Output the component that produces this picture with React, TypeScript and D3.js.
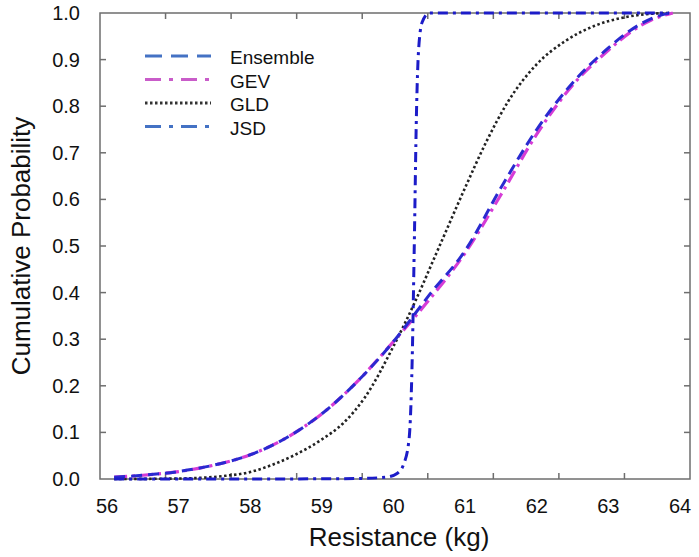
import React from 'react';
import * as d3 from 'd3';

// resistance values (kg) and cumulative probabilities
const ensembleX = [56.1, 56.5, 57, 57.5, 58, 58.5, 59, 59.5, 60, 60.5, 61, 61.5, 62, 62.5, 63, 63.3, 63.6, 63.85];
const ensembleY = [0.004, 0.008, 0.016, 0.03, 0.052, 0.088, 0.14, 0.21, 0.295, 0.395, 0.49, 0.625, 0.75, 0.85, 0.925, 0.962, 0.988, 1.0];

const gevX = [56.1, 56.5, 57, 57.5, 58, 58.5, 59, 59.5, 60, 60.5, 61, 61.5, 62, 62.5, 63, 63.3, 63.6, 63.9];
const gevY = [0.004, 0.008, 0.016, 0.03, 0.052, 0.088, 0.14, 0.21, 0.295, 0.385, 0.485, 0.61, 0.74, 0.845, 0.92, 0.958, 0.985, 1.0];

const gldX = [56.1, 57, 57.6, 58, 58.3, 58.6, 59, 59.3, 59.6, 60, 60.3, 60.6, 61, 61.3, 61.6, 62, 62.4, 62.8, 63.2, 63.5, 63.85];
const gldY = [0.0, 0.001, 0.006, 0.015, 0.03, 0.05, 0.085, 0.12, 0.175, 0.285, 0.38, 0.485, 0.625, 0.725, 0.81, 0.89, 0.94, 0.972, 0.99, 0.997, 1.0];

const jsdX = [56.1, 58, 59.5, 59.9, 60.05, 60.15, 60.22, 60.26, 60.29, 60.32, 60.35, 60.4, 60.5, 61, 62, 63, 63.85];
const jsdY = [0.0, 0.0, 0.001, 0.004, 0.012, 0.035, 0.09, 0.25, 0.5, 0.78, 0.92, 0.98, 1.0, 1.0, 1.0, 1.0, 1.0];

const xLabels = [56, 57, 58, 59, 60, 61, 62, 63, 64];
const yLabels = [0, 0.1, 0.2, 0.3, 0.4, 0.5, 0.6, 0.7, 0.8, 0.9, 1.0];
const legendNames = ['Ensemble', 'GEV', 'GLD', 'JSD'];

const W = 699;
const H = 557;
const frame = { left: 100, right: 690, top: 13, bottom: 479 };

export default function App() {
  const x = d3.scaleLinear().domain([56, 64]).range([107, 680]);
  const y = d3.scaleLinear().domain([0, 1]).range([frame.bottom, frame.top]);

  const line = d3
    .line<[number, number]>()
    .x((d) => x(d[0]))
    .y((d) => y(d[1]))
    .curve(d3.curveMonotoneX);

  const zip = (xs: number[], ys: number[]) => xs.map((v, i) => [v, ys[i]] as [number, number]);

  const series = [
    { name: 'GLD', pts: zip(gldX, gldY), color: '#222', dash: '2.5,2.5', width: 2.6, legendColor: '#333' },
    { name: 'GEV', pts: zip(gevX, gevY), color: '#d63cd6', dash: '13,5,3,5', width: 3.2, legendColor: '#c95cc9' },
    { name: 'Ensemble', pts: zip(ensembleX, ensembleY), color: '#2a2ad0', dash: '11,6', width: 3, legendColor: '#4472c4' },
    { name: 'JSD', pts: zip(jsdX, jsdY), color: '#1c1cc8', dash: '10,5,3,5', width: 3, legendColor: '#4472c4' },
  ];
  const byName = (n: string) => series.find((s) => s.name === n)!;

  // tick marks of the frame (inside), x divided in 9 parts as in the source image
  const xTickPos = d3.range(1, 9).map((k) => frame.left + ((frame.right - frame.left) * k) / 9);
  const yTickPos = yLabels.slice(1, -1).map((v) => y(v));

  const legendDash: Record<string, string> = {
    Ensemble: '17,9',
    GEV: '16,8,4,8',
    GLD: '2.5,2.5',
    JSD: '16,8,4,8',
  };

  return (
    <svg width={W} height={H} style={{ position: 'absolute', left: 0, top: 0, background: '#fff' }}>
      <g fontFamily="'Liberation Sans', Arial, sans-serif" fill="#111">
        {/* frame */}
        <rect
          x={frame.left}
          y={frame.top}
          width={frame.right - frame.left}
          height={frame.bottom - frame.top}
          fill="none"
          stroke="#6e6e6e"
          strokeWidth={1.5}
        />
        {xTickPos.map((p) => (
          <g key={'xt' + p} stroke="#6e6e6e" strokeWidth={1.5}>
            <line x1={p} x2={p} y1={frame.bottom} y2={frame.bottom - 6} />
            <line x1={p} x2={p} y1={frame.top} y2={frame.top + 6} />
          </g>
        ))}
        {yTickPos.map((p) => (
          <g key={'yt' + p} stroke="#6e6e6e" strokeWidth={1.5}>
            <line x1={frame.left} x2={frame.left + 6} y1={p} y2={p} />
            <line x1={frame.right} x2={frame.right - 6} y1={p} y2={p} />
          </g>
        ))}

        {/* curves */}
        {series.map((s) => (
          <path
            key={s.name}
            d={line(s.pts) || ''}
            fill="none"
            stroke={s.color}
            strokeWidth={s.width}
            strokeDasharray={s.dash}
          />
        ))}

        {/* tick labels */}
        {xLabels.map((v) => (
          <text key={'xl' + v} x={x(v)} y={513} fontSize={20} textAnchor="middle">
            {v}
          </text>
        ))}
        {yLabels.map((v) => (
          <text key={'yl' + v} x={80} y={y(v) + 7} fontSize={20} textAnchor="end">
            {v.toFixed(1)}
          </text>
        ))}

        {/* axis titles */}
        <text x={399} y={546} fontSize={26} textAnchor="middle">
          Resistance (kg)
        </text>
        <text transform={`translate(30,${246}) rotate(-90)`} fontSize={26} textAnchor="middle">
          Cumulative Probability
        </text>

        {/* legend */}
        {legendNames.map((n, i) => {
          const s = byName(n);
          const ly = 56 + i * 23.5;
          return (
            <g key={'lg' + n}>
              <line
                x1={145}
                x2={211}
                y1={ly}
                y2={ly}
                stroke={s.legendColor}
                strokeWidth={3}
                strokeDasharray={legendDash[n]}
              />
              <text x={230} y={ly + 8} fontSize={19}>
                {n}
              </text>
            </g>
          );
        })}
      </g>
    </svg>
  );
}
